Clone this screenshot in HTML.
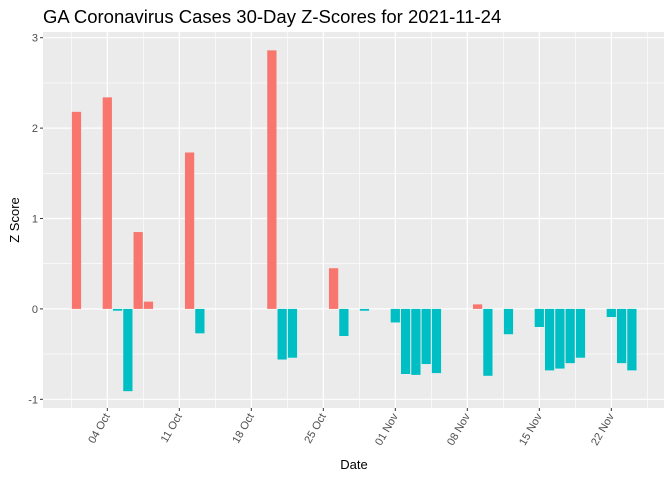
<!DOCTYPE html>
<html><head><meta charset="utf-8"><style>
body{margin:0;background:#fff;font-family:"Liberation Sans",Arial,sans-serif}
svg text{font-family:"Liberation Sans",Arial,sans-serif}
</style></head><body>
<svg id="c" width="672" height="480">
<text x="43" y="23" font-size="18.5" fill="#000">GA Coronavirus Cases 30-Day Z-Scores for 2021-11-24</text>
<rect x="43" y="32" width="621" height="376" fill="#ebebeb"/>
<g id="grid"></g><g id="bars"></g><g id="axes"></g>
<text x="354" y="469" font-size="13" text-anchor="middle" fill="#000">Date</text>
<text transform="translate(19,220) rotate(-90)" font-size="13" text-anchor="middle" fill="#000">Z Score</text>
</svg>
<script>
const dayOffsets=[-3,0,1,2,3,4,8,9,16,17,18,22,23,25,28,29,30,31,32,36,37,39,42,43,44,45,46,49,50,51];
const zValues=[2.18,2.34,-0.02,-0.91,0.85,0.08,1.73,-0.27,2.86,-0.56,-0.54,0.45,-0.30,-0.02,-0.15,-0.72,-0.73,-0.61,-0.71,0.05,-0.74,-0.28,-0.20,-0.68,-0.66,-0.60,-0.54,-0.09,-0.60,-0.68];
const xTickLabels=["04 Oct","11 Oct","18 Oct","25 Oct","01 Nov","08 Nov","15 Nov","22 Nov"];
const xTickDays=[0,7,14,21,28,35,42,49];
const yTicks=[-1,0,1,2,3];
const NS="http://www.w3.org/2000/svg";
const X=d=>107.3+d*10.286;
const Y=v=>308.9-v*90.4;
function mk(tag,attrs,parent){const e=document.createElementNS(NS,tag);for(const k in attrs)e.setAttribute(k,attrs[k]);document.getElementById(parent).appendChild(e);return e;}
const L=43,R=664,T=32,B=408;
for(let i=0;i<yTicks.length-1;i++){const y=Y((yTicks[i]+yTicks[i+1])/2);const e=mk('line',{x1:L,x2:R,y1:y,y2:y,stroke:'#fff','stroke-width':0.6},'grid');

}
for(let d=-3.5;d<=52.5;d+=7){const x=X(d);if(x<L||x>R)continue;const e=mk('line',{x1:x,x2:x,y1:T,y2:B,stroke:'#fff','stroke-width':0.6},'grid');

}
yTicks.forEach(v=>{const y=Y(v);const e=mk('line',{x1:L,x2:R,y1:y,y2:y,stroke:'#fff','stroke-width':1.2},'grid');


const t=mk('line',{x1:L-3,x2:L,y1:y,y2:y,stroke:'#333','stroke-width':1},'axes');


const l=mk('text',{x:L-5,y:y+4,'font-size':11,'text-anchor':'end',fill:'#4d4d4d'},'axes');l.textContent=v;

});
xTickDays.forEach((d,i)=>{const x=X(d);const e=mk('line',{x1:x,x2:x,y1:T,y2:B,stroke:'#fff','stroke-width':1.2},'grid');


const t=mk('line',{x1:x,x2:x,y1:B,y2:B+3,stroke:'#333','stroke-width':1},'axes');


const l=mk('text',{transform:`translate(${x+3},${B+8}) rotate(-60)`,'font-size':11,'text-anchor':'end',fill:'#4d4d4d'},'axes');l.textContent=xTickLabels[i];

});
dayOffsets.forEach((d,i)=>{const v=zValues[i];const x=X(d)-4.63;const y0=Y(0),y1=Y(v);
const r=mk('rect',{x:x,y:Math.min(y0,y1),width:9.26,height:Math.max(Math.abs(y1-y0),0.5),fill:v>=0?'#f8766d':'#00bfc4'},'bars');

});
</script>
</body></html>
